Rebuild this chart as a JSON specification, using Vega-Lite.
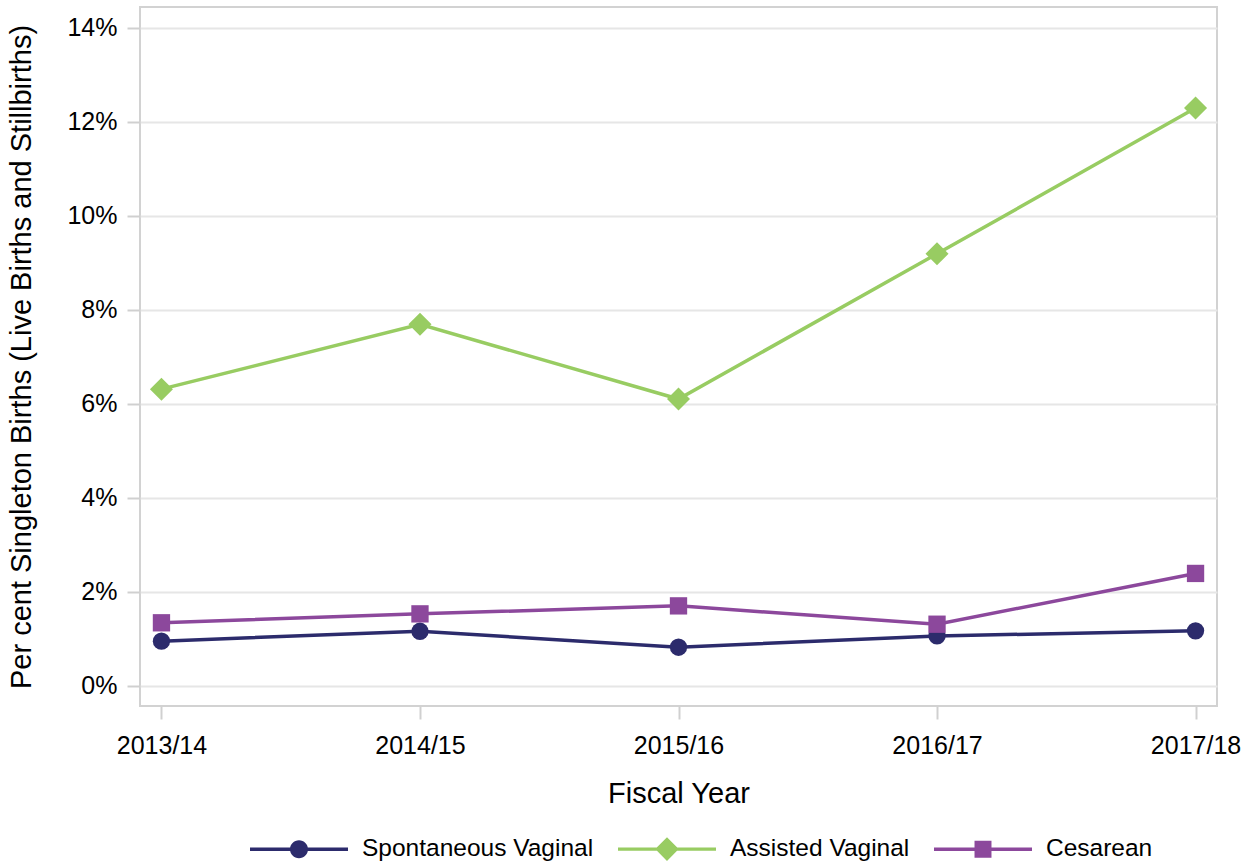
{
  "$schema": "https://vega.github.io/schema/vega-lite/v6.json",
  "width": 1077,
  "height": 699,
  "autosize": {"type": "none"},
  "padding": {"left": 140, "top": 7, "right": 37, "bottom": 161},
  "background": "#ffffff",
  "config": {
    "font": "Liberation Sans",
    "view": {"stroke": "#d2d2d2", "strokeWidth": 2},
    "axis": {
      "labelFont": "Liberation Sans",
      "titleFont": "Liberation Sans",
      "labelFontSize": 25,
      "titleFontSize": 29,
      "labelColor": "#000000",
      "titleColor": "#000000",
      "titleFontWeight": "normal",
      "tickColor": "#d0d0d0",
      "tickWidth": 2,
      "tickSize": 13,
      "domain": false
    }
  },
  "data": {
    "values": [
      {"year": "2013/14", "series": "Spontaneous Vaginal", "pct": 0.95},
      {"year": "2014/15", "series": "Spontaneous Vaginal", "pct": 1.16},
      {"year": "2015/16", "series": "Spontaneous Vaginal", "pct": 0.82},
      {"year": "2016/17", "series": "Spontaneous Vaginal", "pct": 1.06},
      {"year": "2017/18", "series": "Spontaneous Vaginal", "pct": 1.17},
      {"year": "2013/14", "series": "Assisted Vaginal", "pct": 6.31},
      {"year": "2014/15", "series": "Assisted Vaginal", "pct": 7.69},
      {"year": "2015/16", "series": "Assisted Vaginal", "pct": 6.1},
      {"year": "2016/17", "series": "Assisted Vaginal", "pct": 9.19},
      {"year": "2017/18", "series": "Assisted Vaginal", "pct": 12.29},
      {"year": "2013/14", "series": "Cesarean", "pct": 1.34},
      {"year": "2014/15", "series": "Cesarean", "pct": 1.53},
      {"year": "2015/16", "series": "Cesarean", "pct": 1.7},
      {"year": "2016/17", "series": "Cesarean", "pct": 1.31},
      {"year": "2017/18", "series": "Cesarean", "pct": 2.39}
    ]
  },
  "encoding": {
    "x": {
      "field": "year",
      "type": "ordinal",
      "scale": {"type": "point", "padding": 0.083},
      "axis": {
        "title": "Fiscal Year",
        "labelAngle": 0,
        "grid": false,
        "labelPadding": 14,
        "titlePadding": 21
      }
    },
    "y": {
      "field": "pct",
      "type": "quantitative",
      "scale": {"domain": [-0.43, 14.44], "nice": false, "zero": false},
      "axis": {
        "title": "Per cent Singleton Births (Live Births and Stillbirths)",
        "values": [0, 2, 4, 6, 8, 10, 12, 14],
        "labelExpr": "datum.value + '%'",
        "grid": true,
        "gridColor": "#e6e6e6",
        "gridWidth": 2,
        "labelPadding": 10,
        "titlePadding": 30
      }
    }
  },
  "layer": [
    {
      "mark": {"type": "line", "strokeWidth": 3.5},
      "encoding": {
        "color": {
          "field": "series",
          "type": "nominal",
          "scale": {
            "domain": ["Spontaneous Vaginal", "Assisted Vaginal", "Cesarean"],
            "range": ["#2c2b6c", "#98cc62", "#8c489c"]
          },
          "legend": null
        }
      }
    },
    {
      "transform": [{"filter": "datum.series !== 'Assisted Vaginal'"}],
      "mark": {"type": "point", "filled": true, "opacity": 1, "size": 300},
      "encoding": {
        "color": {"field": "series", "type": "nominal", "legend": null},
        "shape": {
          "field": "series",
          "type": "nominal",
          "scale": {
            "domain": ["Spontaneous Vaginal", "Assisted Vaginal", "Cesarean"],
            "range": ["circle", "diamond", "square"]
          },
          "legend": null
        }
      }
    },
    {
      "transform": [{"filter": "datum.series === 'Assisted Vaginal'"}],
      "mark": {"type": "point", "filled": true, "opacity": 1, "size": 530},
      "encoding": {
        "color": {"field": "series", "type": "nominal", "legend": null},
        "shape": {
          "field": "series",
          "type": "nominal",
          "scale": {
            "domain": ["Spontaneous Vaginal", "Assisted Vaginal", "Cesarean"],
            "range": ["circle", "diamond", "square"]
          },
          "legend": null
        }
      }
    },
    {
      "layer": [
        {
          "mark": {"type": "point", "filled": true, "opacity": 0, "size": 9604},
          "encoding": {
            "color": {
              "field": "series",
              "type": "nominal",
              "legend": {
                "title": null,
                "orient": "none",
                "direction": "horizontal",
                "legendX": 110,
                "legendY": 793,
                "symbolSize": 9604,
                "symbolOpacity": 1,
                "symbolStrokeWidth": 0,
                "labelFontSize": 24.5,
                "labelFont": "Liberation Sans",
                "labelColor": "#000000",
                "labelOffset": 14,
                "labelLimit": 400,
                "columnPadding": 24
              }
            },
            "shape": {
              "field": "series",
              "type": "nominal",
              "scale": {
                "domain": ["Spontaneous Vaginal", "Assisted Vaginal", "Cesarean"],
                "range": [
                  "M-1,-0.035H1V0.035H-1Z M0.184,0A0.184,0.184 0 1,1 -0.184,0A0.184,0.184 0 1,1 0.184,0Z",
                  "M-1,-0.035H1V0.035H-1Z M0,-0.24L0.24,0L0,0.24L-0.24,0Z",
                  "M-1,-0.035H1V0.035H-1Z M-0.173,-0.173H0.173V0.173H-0.173Z"
                ]
              },
              "legend": {
                "title": null,
                "orient": "none",
                "direction": "horizontal",
                "legendX": 110,
                "legendY": 793,
                "symbolSize": 9604,
                "symbolOpacity": 1,
                "symbolStrokeWidth": 0,
                "labelFontSize": 24.5,
                "labelFont": "Liberation Sans",
                "labelColor": "#000000",
                "labelOffset": 14,
                "labelLimit": 400,
                "columnPadding": 24
              }
            }
          }
        }
      ]
    }
  ],
  "resolve": {
    "scale": {"shape": "independent"},
    "legend": {"shape": "independent", "color": "independent"}
  }
}
